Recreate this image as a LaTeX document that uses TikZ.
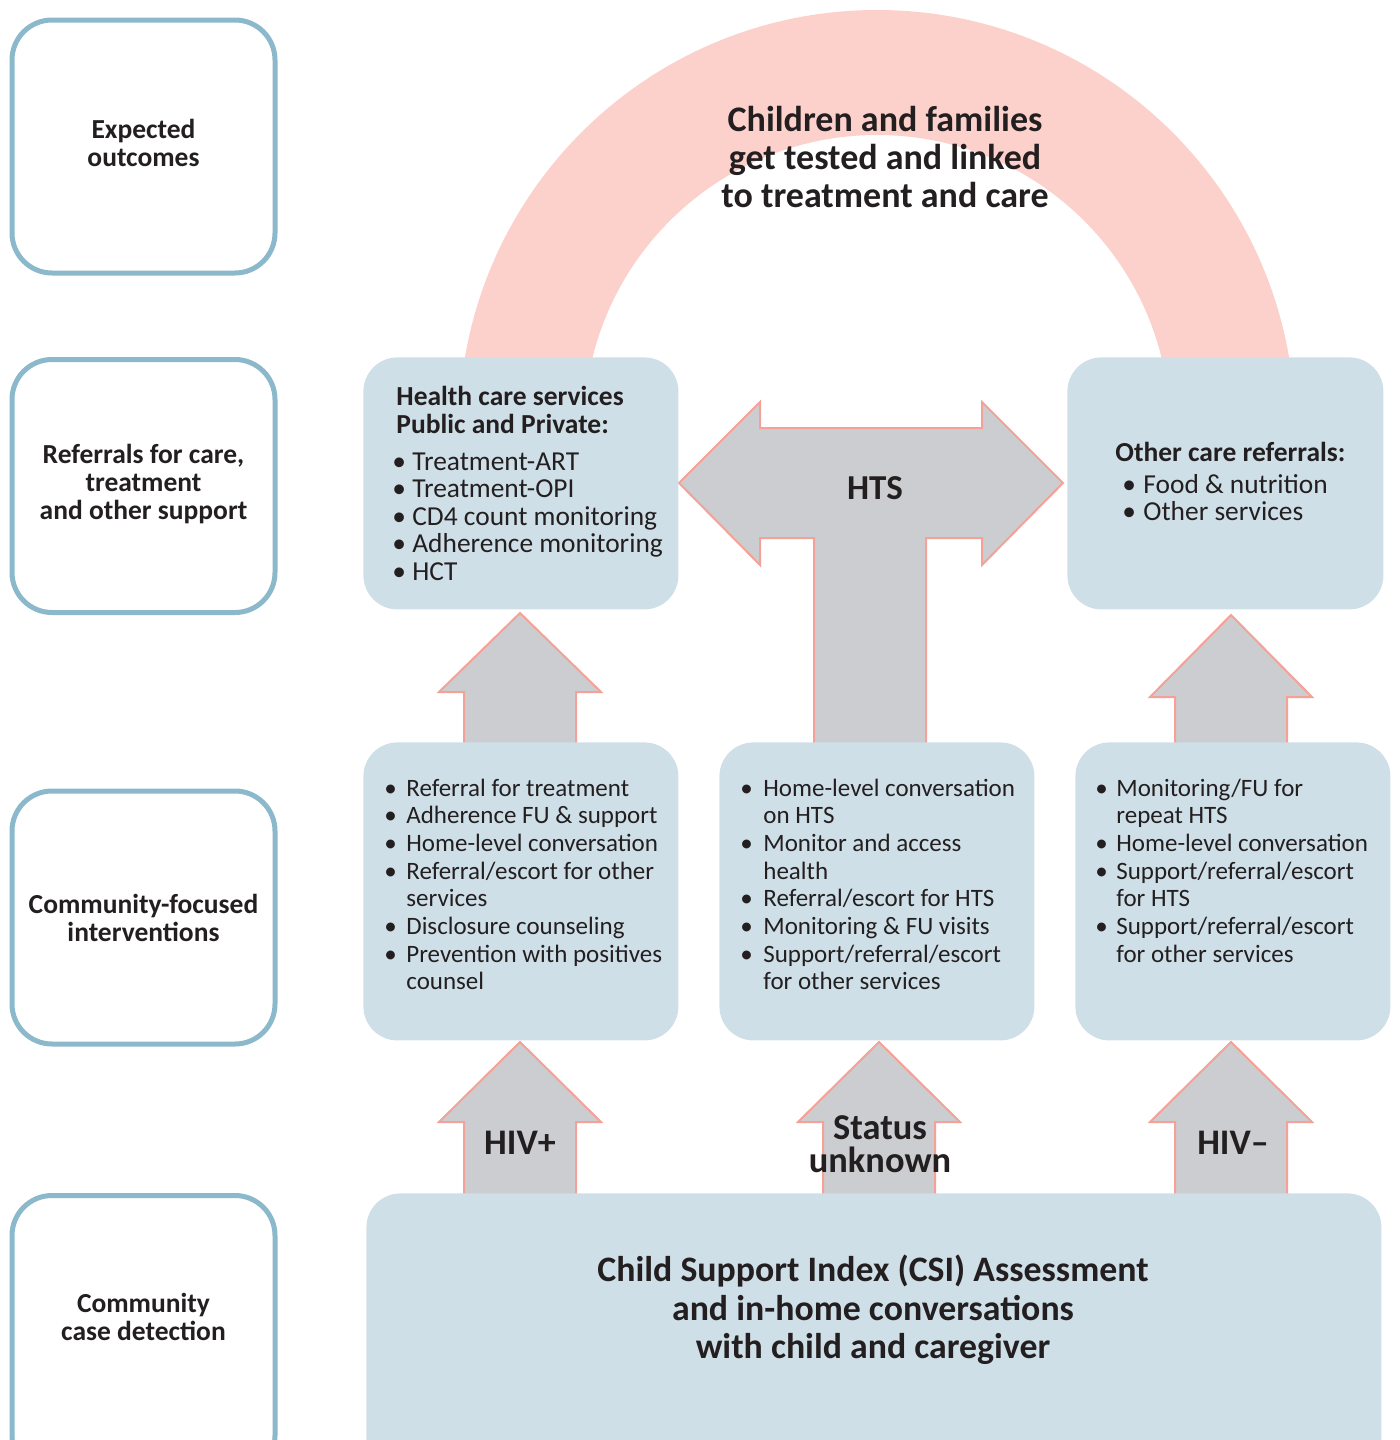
\documentclass[tikz,border=0pt]{standalone}
\usepackage{fontspec}
\setmainfont{Carlito}
\usetikzlibrary{positioning}

\definecolor{sideblue}{HTML}{8BB8CB}
\definecolor{boxblue}{HTML}{CFDFE7}
\definecolor{archpink}{HTML}{FDD1CB}
\definecolor{arrowgray}{HTML}{CBCDD0}
\definecolor{arrowline}{HTML}{F4A297}
\definecolor{ink}{HTML}{231F20}

% bullet list: first column holds the bullet
\newcommand{\bul}{\textbullet}
\newcommand{\bulletlist}[2]{\begin{tabular}[t]{@{}p{#1}@{}l@{}}#2\end{tabular}}
% lines lifted a little inside a side box
\newcommand{\lifted}[2]{\raisebox{#1}{\begin{tabular}{@{}c@{}}#2\end{tabular}}}
% block arrow pointing up: centre x, tip y, head base y, shaft bottom y
\newcommand{\blockup}[4]{%
  \draw[blockarrow] (#1,#2) -- (#1+81,#3) -- (#1+56,#3) -- (#1+56,#4)
    -- (#1-56,#4) -- (#1-56,#3) -- (#1-81,#3) -- cycle;}

\begin{document}
\begin{tikzpicture}[
    x=0.5pt, y=-0.5pt,
    every node/.style={text=ink, inner sep=0pt},
    sidebox/.style={draw=sideblue, line width=2.5pt, rounded corners=20pt,
        fill=white, minimum width=131.5pt, minimum height=126.5pt,
        align=center, font=\fontsize{13.75}{14}\selectfont\bfseries},
    bluebox/.style={fill=boxblue, rounded corners=17pt, anchor=north west,
        minimum width=157.5pt, minimum height=126pt},
    blockarrow/.style={fill=arrowgray, draw=arrowline, line width=1pt},
    biglabel/.style={align=center, font=\fontsize{18}{19.2}\selectfont\bfseries},
    listhead/.style={anchor=base west, font=\fontsize{13.75}{14}\selectfont\bfseries},
    toplist/.style={anchor=base west, font=\fontsize{13.7}{13.75}\selectfont},
    midlist/.style={anchor=base west, font=\fontsize{12.5}{13.85}\selectfont}
]
\useasboundingbox (0,0) rectangle (1400,1440);

% arch
\fill[archpink] (459,428) arc[start angle=180, end angle=360, radius=418]
    -- (1170,428) arc[start angle=360, end angle=180, radius=293] -- cycle;

% block arrows
\blockup{520}{613}{692}{745}
\blockup{1231}{615}{697}{745}
\blockup{520}{1042}{1122}{1196}
\blockup{879}{1042}{1122}{1196}
\blockup{1231}{1042}{1122}{1196}
\draw[blockarrow] (679,483) -- (760,402) -- (760,428) -- (982,428) -- (982,402)
    -- (1063,483) -- (982,565) -- (982,538) -- (926,538) -- (926,745)
    -- (814,745) -- (814,538) -- (760,538) -- (760,565) -- cycle;

% blue boxes
\node[bluebox] (health) at (363,357) {};
\node[bluebox, minimum width=158pt] (other) at (1067,357) {};
\node[bluebox, minimum height=149pt] (posbox) at (363,742) {};
\node[bluebox, minimum height=149pt] (unkbox) at (719,742) {};
\node[bluebox, minimum height=149pt] (negbox) at (1075,742) {};
\node[bluebox, minimum width=507.5pt, minimum height=150pt] (csibox) at (366,1193) {};

% texts
\node[biglabel] (goal) at (885,157) {Children and families\\get tested and linked\\to treatment and care};
\node[biglabel, font=\fontsize{17.5}{19.2}\selectfont\bfseries] (hts) at (875,488) {HTS};
\node[biglabel] (pos) at (520,1143) {HIV+};
\node[biglabel, font=\fontsize{18.2}{16.5}\selectfont\bfseries] (unk) at (880,1144) {Status\\unknown};
\node[biglabel] (neg) at (1233,1143) {HIV--};
\node[biglabel, font=\fontsize{17.9}{19.2}\selectfont\bfseries] (csi) at (873,1310)
    {Child Support Index (CSI) Assessment\\and in-home conversations\\with child and caregiver};

\node[listhead] (healthhead) at (396,405) {\begin{tabular}[t]{@{}l@{}}Health care services\\Public and Private:\end{tabular}};
\node[toplist] (healthlist) at (392,470) {\bulletlist{10pt}{%
    \bul & Treatment-ART\\ \bul & Treatment-OPI\\ \bul & CD4 count monitoring\\
    \bul & Adherence monitoring\\ \bul & HCT}};
\node[listhead] (otherhead) at (1115,461) {Other care referrals:};
\node[toplist] (otherlist) at (1122,493) {\bulletlist{10.5pt}{%
    \bul & Food \& nutrition\\ \bul & Other services}};

\node[midlist] (poslist) at (384,796) {\bulletlist{11pt}{%
    \bul & Referral for treatment\\ \bul & Adherence FU \& support\\
    \bul & Home-level conversation\\ \bul & Referral/escort for other\\
    & services\\ \bul & Disclosure counseling\\
    \bul & Prevention with positives\\ & counsel}};
\node[midlist] (unklist) at (740,796) {\bulletlist{11.5pt}{%
    \bul & Home-level conversation\\ & on HTS\\ \bul & Monitor and access\\
    & health\\ \bul & Referral/escort for HTS\\ \bul & Monitoring \& FU visits\\
    \bul & Support/referral/escort\\ & for other services}};
\node[midlist] (neglist) at (1095,796) {\bulletlist{10.5pt}{%
    \bul & Monitoring/FU for\\ & repeat HTS\\ \bul & Home-level conversation\\
    \bul & Support/referral/escort\\ & for HTS\\
    \bul & Support/referral/escort\\ & for other services}};

% left column
\node[sidebox] (outcomes) at (143.5,146.5) {\lifted{2pt}{Expected\\outcomes}};
\node[sidebox] (referrals) at (143.5,486) {\lifted{3.5pt}{Referrals for care,\\treatment\\and other support}};
\node[sidebox] (community) at (143.5,917.5) {Community-focused\\interventions};
\node[sidebox, anchor=north, minimum height=140pt] (detection) at (143.5,1193) {};
\node[align=center, font=\fontsize{13.75}{14}\selectfont\bfseries] (detectlabel) at (143.5,1317)
    {Community\\case detection};

\end{tikzpicture}
\end{document}
